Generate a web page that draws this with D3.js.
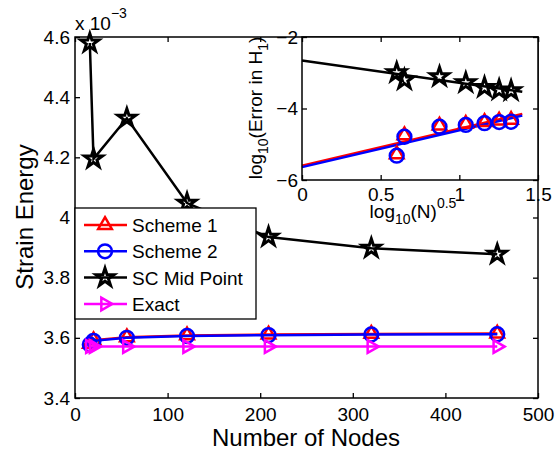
<!DOCTYPE html>
<html>
<head>
<meta charset="utf-8">
<script src="https://cdn.jsdelivr.net/npm/d3@7"></script>
<style>
  body { margin: 0; background: #fff; }
  svg text { font-family: "Liberation Sans", Arial, sans-serif; fill: #000; }
</style>
</head>
<body>
<svg id="chart" width="555" height="453"></svg>
<script>
// node counts on the x axis
const nodes = [16, 20, 56, 121, 209, 320, 456];

// strain energy values (x 10^-3)
const scheme1 = [3.580, 3.592, 3.602, 3.608, 3.611, 3.613, 3.614];
const scheme2 = [3.578, 3.590, 3.600, 3.606, 3.609, 3.611, 3.612];
const scMid   = [4.580, 4.195, 4.330, 4.048, 3.935, 3.898, 3.878];
const exact   = [3.571, 3.571, 3.571, 3.571, 3.571, 3.571, 3.571];

const xTicks = [0, 100, 200, 300, 400, 500];
const yTicks = [3.4, 3.6, 3.8, 4.0, 4.2, 4.4, 4.6];

// inset: log10(N)^0.5 vs log10(error in H1)
const insetX   = [0.602, 0.651, 0.874, 1.041, 1.160, 1.253, 1.329];
const errS1    = [-5.28, -4.75, -4.48, -4.43, -4.38, -4.34, -4.32];
const errS2    = [-5.32, -4.79, -4.51, -4.46, -4.41, -4.38, -4.37];
const errSC    = [-3.00, -3.20, -3.11, -3.28, -3.41, -3.48, -3.50];
// fitted lines (end points)
const fitX     = [0, 1.40];
const fitS1    = [-5.60, -4.15];
const fitS2    = [-5.64, -4.20];
const fitSC    = [-2.66, -3.53];

const insetXTicks = [0, 0.5, 1, 1.5];
const insetYTicks = [-6, -4, -2];

const svg = d3.select('#chart');

const x = d3.scaleLinear().domain([0, 500]).range([75, 538]);
const y = d3.scaleLinear().domain([3.4, 4.6]).range([398, 37]);

const sym = {
  tri: d3.symbol(d3.symbolTriangle, 80)(),
  circ: d3.symbol(d3.symbolCircle, 150)(),
  star: d3.symbol(d3.symbolStar, 100)(),
  right: d3.symbol(d3.symbolTriangle, 70)()
};
const symWidth = { tri: 2.5, circ: 2.5, star: 3, right: 2.5 };

const series = [
  { name: 'Scheme 1', vals: scheme1, color: 'red', marker: 'tri', rot: 0 },
  { name: 'Scheme 2', vals: scheme2, color: 'blue', marker: 'circ', rot: 0 },
  { name: 'SC Mid Point', vals: scMid, color: 'black', marker: 'star', rot: 0 },
  { name: 'Exact', vals: exact, color: 'magenta', marker: 'right', rot: 90 }
];

function fmtMinus(d) { return String(d).replace('-', '\u2212'); }

// ---- main axes
svg.append('g').attr('transform', 'translate(0,398)')
  .call(d3.axisBottom(x).tickValues(xTicks).tickSize(-5).tickPadding(10).tickSizeOuter(0));
svg.append('g').attr('transform', 'translate(0,37)')
  .call(d3.axisTop(x).tickValues(xTicks).tickSize(-5).tickFormat('').tickSizeOuter(0));
svg.append('g').attr('transform', 'translate(75,0)')
  .call(d3.axisLeft(y).tickValues(yTicks).tickSize(-5).tickPadding(5).tickSizeOuter(0)
    .tickFormat(d => d3.format('~g')(d)));
svg.append('g').attr('transform', 'translate(538,0)')
  .call(d3.axisRight(y).tickValues(yTicks).tickSize(-5).tickFormat('').tickSizeOuter(0));

svg.selectAll('.domain').remove();
svg.selectAll('.tick line').attr('stroke', '#000').attr('stroke-width', 1.3);
svg.selectAll('.tick text').attr('font-size', 19).attr('font-family', '"Liberation Sans", Arial, sans-serif');

svg.append('rect').attr('x', 75).attr('y', 37).attr('width', 463).attr('height', 361)
  .attr('fill', 'none').attr('stroke', '#000').attr('stroke-width', 1.5);

// exponent
const ex = svg.append('text').attr('x', 75).attr('y', 30).attr('font-size', 19);
ex.append('tspan').text('x 10');
ex.append('tspan').attr('dy', -12).attr('font-size', 14).text('\u22123');

// axis labels
svg.append('text').attr('x', 306).attr('y', 446).attr('text-anchor', 'middle')
  .attr('font-size', 24).text('Number of Nodes');
svg.append('text').attr('transform', 'translate(33,217) rotate(-90)')
  .attr('text-anchor', 'middle').attr('font-size', 24).text('Strain Energy');

// ---- main series
const line = d3.line().x((d, i) => x(nodes[i])).y(d => y(d));
series.forEach(s => {
  svg.append('path').datum(s.vals).attr('d', line)
    .attr('fill', 'none').attr('stroke', s.color).attr('stroke-width', 2.5);
  svg.selectAll(null).data(s.vals).enter().append('path')
    .attr('d', sym[s.marker])
    .attr('transform', (d, i) => `translate(${x(nodes[i])},${y(d)}) rotate(${s.rot})`)
    .attr('fill', 'none').attr('stroke', s.color).attr('stroke-width', symWidth[s.marker]);
});

// ---- legend
const lg = svg.append('g');
lg.append('rect').attr('x', 75).attr('y', 208).attr('width', 181).attr('height', 111)
  .attr('fill', '#fff').attr('stroke', '#000').attr('stroke-width', 1.3);
series.forEach((s, i) => {
  const yy = 225 + i * 26.3;
  lg.append('line').attr('x1', 84).attr('x2', 127).attr('y1', yy).attr('y2', yy)
    .attr('stroke', s.color).attr('stroke-width', 2.5);
  lg.append('path').attr('d', sym[s.marker])
    .attr('transform', `translate(105,${yy}) rotate(${s.rot})`)
    .attr('fill', 'none').attr('stroke', s.color).attr('stroke-width', symWidth[s.marker]);
  lg.append('text').attr('x', 132).attr('y', yy + 7).attr('font-size', 19).text(s.name);
});

// ---- inset
const ix = d3.scaleLinear().domain([0, 1.5]).range([302, 538]);
const iy = d3.scaleLinear().domain([-6, -2]).range([180, 37]);

svg.append('rect').attr('x', 302).attr('y', 37).attr('width', 236).attr('height', 143)
  .attr('fill', '#fff');

const ig = svg.append('g');
ig.append('g').attr('transform', 'translate(0,180)')
  .call(d3.axisBottom(ix).tickValues(insetXTicks).tickSize(-5).tickPadding(8).tickSizeOuter(0)
    .tickFormat(d => d3.format('~g')(d)));
ig.append('g').attr('transform', 'translate(0,37)')
  .call(d3.axisTop(ix).tickValues(insetXTicks).tickSize(-5).tickFormat('').tickSizeOuter(0));
ig.append('g').attr('transform', 'translate(302,0)')
  .call(d3.axisLeft(iy).tickValues(insetYTicks).tickSize(-5).tickPadding(4).tickSizeOuter(0)
    .tickFormat(fmtMinus));
ig.append('g').attr('transform', 'translate(538,0)')
  .call(d3.axisRight(iy).tickValues(insetYTicks).tickSize(-5).tickFormat('').tickSizeOuter(0));
ig.selectAll('.domain').remove();
ig.selectAll('.tick line').attr('stroke', '#000').attr('stroke-width', 1.3);
ig.selectAll('.tick text').attr('font-size', 19).attr('font-family', '"Liberation Sans", Arial, sans-serif');

const fitLine = d3.line().x((d, i) => ix(fitX[i])).y(d => iy(d));
[[fitSC, 'black'], [fitS1, 'red'], [fitS2, 'blue']].forEach(([f, c]) => {
  ig.append('path').datum(f).attr('d', fitLine)
    .attr('fill', 'none').attr('stroke', c).attr('stroke-width', 2.5);
});

[[errS1, 'red', 'tri'], [errS2, 'blue', 'circ'], [errSC, 'black', 'star']].forEach(([vals, c, m]) => {
  ig.selectAll(null).data(vals).enter().append('path')
    .attr('d', sym[m])
    .attr('transform', (d, i) => `translate(${ix(insetX[i])},${iy(d)})`)
    .attr('fill', 'none').attr('stroke', c).attr('stroke-width', symWidth[m]);
});

ig.append('rect').attr('x', 302).attr('y', 37).attr('width', 236).attr('height', 143)
  .attr('fill', 'none').attr('stroke', '#000').attr('stroke-width', 1.5);

// inset labels
const ixl = ig.append('text').attr('x', 413).attr('y', 218).attr('text-anchor', 'middle').attr('font-size', 19);
ixl.append('tspan').text('log');
ixl.append('tspan').attr('dy', 6).attr('font-size', 14).text('10');
ixl.append('tspan').attr('dy', -6).text('(N)');
ixl.append('tspan').attr('dy', -10).attr('font-size', 14).text('0.5');

const iyl = ig.append('text').attr('transform', 'translate(262,108) rotate(-90)')
  .attr('text-anchor', 'middle').attr('font-size', 19);
iyl.append('tspan').text('log');
iyl.append('tspan').attr('dy', 6).attr('font-size', 14).text('10');
iyl.append('tspan').attr('dy', -6).text('(Error in H');
iyl.append('tspan').attr('dy', 6).attr('font-size', 14).text('1');
iyl.append('tspan').attr('dy', -6).text(')');
</script>
</body>
</html>
